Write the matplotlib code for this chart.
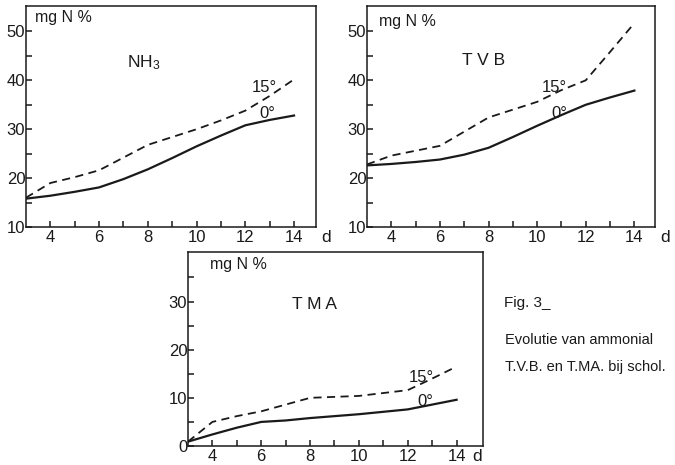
import matplotlib
matplotlib.use("Agg")
import matplotlib.pyplot as plt

plt.rcParams['font.family'] = ['Liberation Sans', 'DejaVu Sans']
plt.rcParams['mathtext.default'] = 'regular'

days = [3, 4, 5, 6, 7, 8, 9, 10, 11, 12, 13, 14]
nh3_0 = [15.8, 16.4, 17.2, 18.1, 19.8, 21.8, 24.1, 26.5, 28.7, 30.8, 31.9, 32.8]
nh3_15 = [16.0, 19.0, 20.2, 21.6, 24.2, 26.8, 28.4, 30.0, 31.8, 33.8, 36.8, 40.2]
tvb_0 = [22.6, 22.9, 23.3, 23.8, 24.8, 26.2, 28.4, 30.7, 32.9, 35.0, 36.5, 37.9]
tvb_15 = [22.8, 24.6, 25.6, 26.6, 29.5, 32.4, 34.0, 35.6, 38.0, 40.0, 45.8, 51.7]
tma_0 = [0.9, 2.4, 3.8, 5.0, 5.3, 5.8, 6.2, 6.6, 7.1, 7.6, 8.6, 9.6]
tma_15 = [0.9, 5.0, 6.2, 7.2, 8.6, 10.0, 10.2, 10.4, 11.0, 11.6, 14.0, 16.5]

xticks = [4, 6, 8, 10, 12, 14]
titles = [r"NH$_3$", "T V B", "T M A"]
unit_label = "mg N %"
temp_labels = ["15°", "0°"]
caption = ["Fig. 3_", "Evolutie van ammonial", "T.V.B. en T.MA. bij schol."]

ink = '#1a1a1a'
fig = plt.figure(figsize=(6.75, 4.65), dpi=100)

panels = [
    dict(rect=[0.0385, 0.5118, 0.4296, 0.4753], y0=nh3_0, y15=nh3_15,
         ylim=(10, 55.2), xlim=(3, 14.9), yticks=[10, 20, 30, 40, 50],
         yminor=[15, 25, 35, 45], title=titles[0], tpos=(0.35, 0.745),
         upos=(0.03, 0.95), p15=(0.78, 0.63), p0=(0.805, 0.515), dx=1.034),
    dict(rect=[0.5437, 0.5118, 0.4267, 0.4753], y0=tvb_0, y15=tvb_15,
         ylim=(10, 55.2), xlim=(3, 14.85), yticks=[10, 20, 30, 40, 50],
         yminor=[15, 25, 35, 45], title=titles[1], tpos=(0.33, 0.755),
         upos=(0.04, 0.93), p15=(0.605, 0.63), p0=(0.64, 0.515), dx=1.035),
    dict(rect=[0.2785, 0.0409, 0.437, 0.4172], y0=tma_0, y15=tma_15,
         ylim=(0, 40.3), xlim=(3, 15.08), yticks=[0, 10, 20, 30],
         yminor=[5, 15, 25, 35], title=titles[2], tpos=(0.353, 0.727),
         upos=(0.075, 0.933), p15=(0.75, 0.355), p0=(0.776, 0.227), dx=0.98),
]

for p in panels:
    ax = fig.add_axes(p['rect'])
    ax.plot(days, p['y0'], color=ink, lw=1.6, solid_joinstyle='round')
    ax.plot(days, p['y15'], color=ink, lw=1.3, linestyle=(0, (4.5, 3)))
    ax.set_xlim(*p['xlim'])
    ax.set_ylim(*p['ylim'])
    ax.set_xticks(xticks)
    ax.set_xticks(list(range(5, 15, 2)), minor=True)
    ax.set_yticks(p['yticks'])
    ax.set_yticks(p['yminor'], minor=True)
    ax.tick_params(which='both', direction='in', length=4, width=1.1, colors=ink,
                   labelsize=12, top=False, right=False)
    ax.tick_params(axis='y', pad=0.5)
    ax.tick_params(axis='x', pad=2)
    for s in ax.spines.values():
        s.set_linewidth(1.1)
        s.set_color(ink)
    ax.text(p['upos'][0], p['upos'][1], unit_label, transform=ax.transAxes,
            fontsize=11.5, ha='left', va='center', color=ink)
    ax.text(p['tpos'][0], p['tpos'][1], p['title'], transform=ax.transAxes,
            fontsize=12.5, ha='left', va='center', color=ink)
    ax.text(p['p15'][0], p['p15'][1], temp_labels[0], transform=ax.transAxes,
            fontsize=12, ha='left', va='center', color=ink)
    ax.text(p['p0'][0], p['p0'][1], temp_labels[1], transform=ax.transAxes,
            fontsize=12, ha='left', va='center', color=ink)
    ax.annotate('d', xy=(p['dx'], 0), xycoords='axes fraction',
                xytext=(0, -2), textcoords='offset points',
                ha='center', va='top', fontsize=12.5, color=ink)

fig.text(0.747, 0.348, caption[0], fontsize=11, ha='left', va='center', color=ink)
fig.text(0.748, 0.269, caption[1], fontsize=10.5, ha='left', va='center', color=ink)
fig.text(0.748, 0.211, caption[2], fontsize=10.5, ha='left', va='center', color=ink)

fig.savefig('out.png', dpi=100)
